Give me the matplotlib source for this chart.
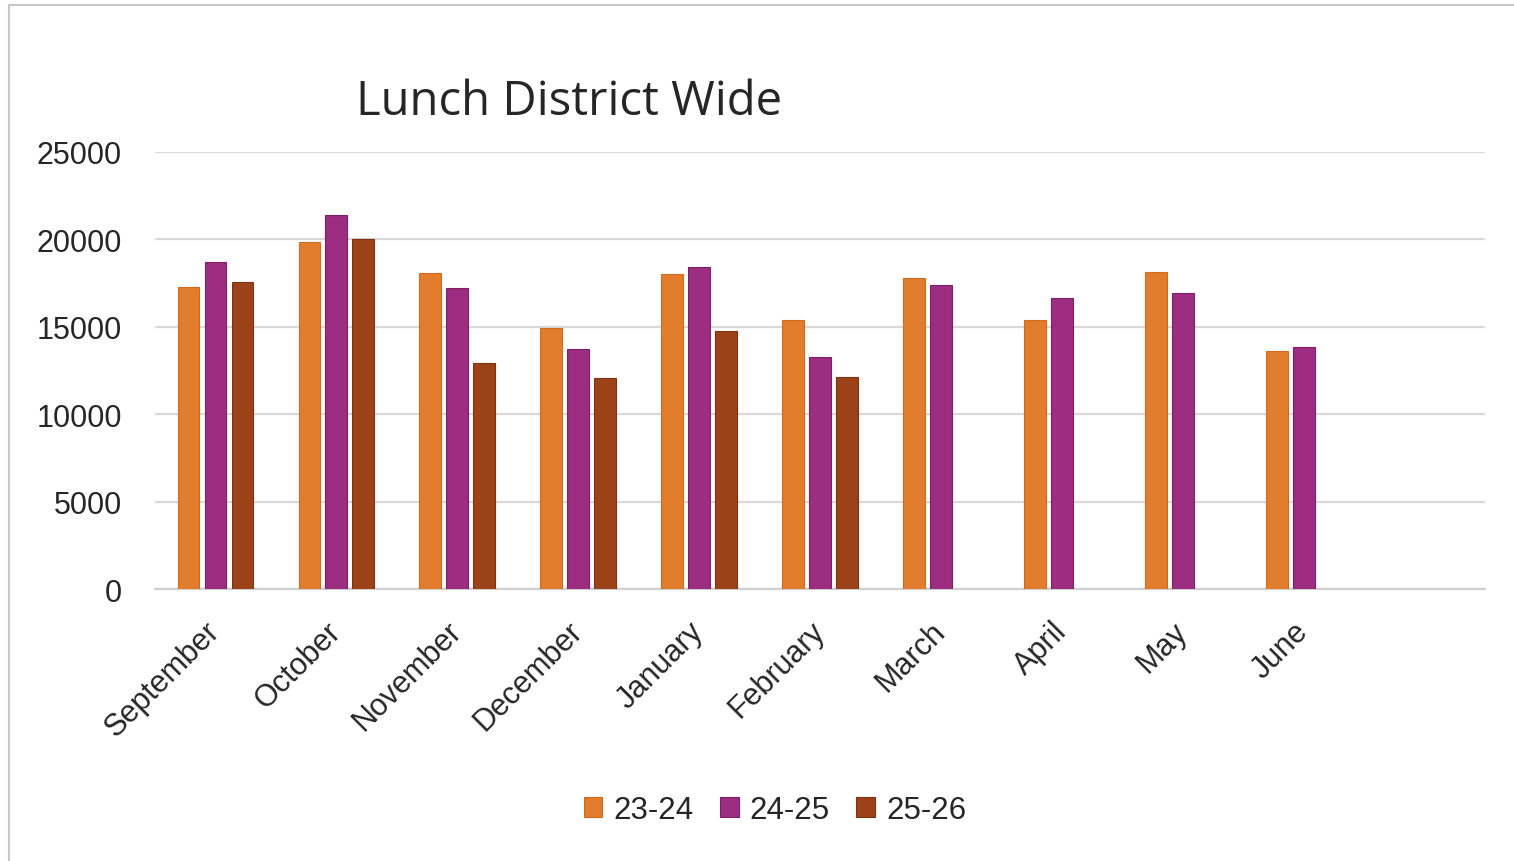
import numpy as np
import matplotlib
matplotlib.use("Agg")
import matplotlib.pyplot as plt
from matplotlib.lines import Line2D

categories = ["September", "October", "November", "December", "January",
              "February", "March", "April", "May", "June", ""]
s2324 = [17300, 19850, 18080, 14930, 18020, 15410, 17770, 15410, 18150, 13600, np.nan]
s2425 = [18720, 21400, 17200, 13730, 18440, 13250, 17390, 16650, 16920, 13860, np.nan]
s2526 = [17580, 20000, 12910, 12090, 14740, 12150, np.nan, np.nan, np.nan, np.nan, np.nan]
series_labels = ["23-24", "24-25", "25-26"]
colors = ["#E27D2E", "#9C2D80", "#9B4219"]
edges = ["#D06A1C", "#7E1F66", "#7E3210"]

W, H = 1514, 862
fig = plt.figure(figsize=(W / 100, H / 100), dpi=100)
fig.patch.set_facecolor("white")

# scanned-page frame lines
fig.add_artist(Line2D([9 / W, 9 / W], [0, 1 - 6 / H], transform=fig.transFigure,
                      color="#C8C8C8", lw=1.5))
fig.add_artist(Line2D([9 / W, 1], [1 - 6 / H, 1 - 6 / H], transform=fig.transFigure,
                      color="#C8C8C8", lw=1.5))

ax = fig.add_axes([155 / W, 1 - 590 / H, (1485 - 155) / W, (590 - 153) / H])
x = np.arange(len(categories))
bw = 0.18
pitch = 0.223
for i, (vals, c, e, lab) in enumerate(zip([s2324, s2425, s2526], colors, edges, series_labels)):
    ax.bar(x + (i - 1) * pitch, vals, width=bw, color=c, edgecolor=e, linewidth=0.8,
           label=lab, zorder=3)

ax.set_xlim(-0.5, len(categories) - 0.5)
ax.set_ylim(0, 25000)
ax.set_yticks(np.arange(0, 25001, 5000))
ax.yaxis.grid(True, color="#D9D9D9", linewidth=1.6, zorder=0)
ax.set_axisbelow(True)
for s in ["top", "right", "left"]:
    ax.spines[s].set_visible(False)
ax.spines["bottom"].set_color("#D0D0D0")
ax.spines["bottom"].set_linewidth(1.6)
ax.tick_params(axis="both", length=0, labelsize=22, colors="#262626")
ax.tick_params(axis="y", pad=24)
ax.set_xticks(x)
ax.set_xticklabels(categories, rotation=45, ha="right", va="center",
                   rotation_mode="anchor", family="Liberation Sans")
for t in ax.get_yticklabels():
    t.set_family("Liberation Sans")
ax.tick_params(axis="x", pad=27)

fig.text(569 / W, 1 - 102 / H, "Lunch District Wide", ha="center", va="center",
         fontsize=34, color="#262626", family="Open Sans")

leg = fig.legend(loc="center", bbox_to_anchor=(775 / W, 1 - 811 / H), ncol=3,
                 frameon=False, prop={"family": "Liberation Sans", "size": 22.5},
                 handlelength=0.6, handleheight=0.6, handletextpad=0.35,
                 columnspacing=0.85, labelcolor="#262626")

fig.savefig("out.png", dpi=100)
